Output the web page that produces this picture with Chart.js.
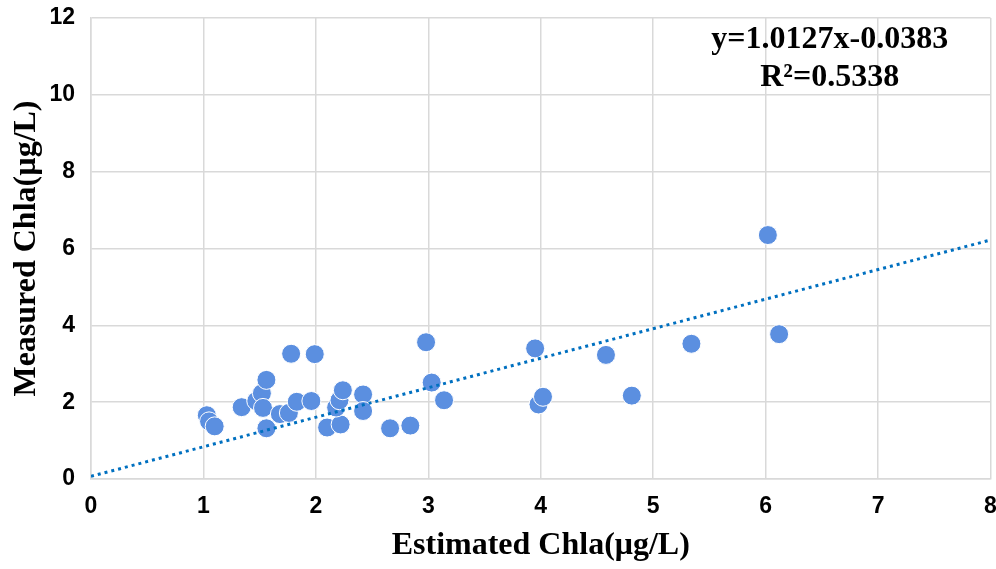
<!DOCTYPE html>
<html lang="en">
<head>
    <meta charset="UTF-8">
    <title>Estimated vs Measured Chla</title>
    <script src="https://cdn.jsdelivr.net/npm/chart.js@4/dist/chart.umd.min.js"></script>
    <style>
        html, body { margin: 0; padding: 0; background: #fff; overflow: hidden; }
        canvas { display: block; }
    </style>
</head>
<body>
    <!-- a little wider than the window so the plot reaches the right edge like the original -->
    <canvas id="chart" width="1001" height="569"></canvas>

    <script>
        // estimated Chla (x) and measured Chla (y), ug/L
        var estimated = [1.03, 1.05, 1.10, 1.34, 1.47, 1.52, 1.56, 1.53, 1.56, 1.68, 1.76, 1.78,
                         1.83, 1.96, 1.99, 2.10, 2.22, 2.18, 2.21, 2.24, 2.42, 2.42, 2.66, 2.84,
                         2.98, 3.03, 3.14, 3.95, 3.98, 4.02, 4.58, 4.81, 5.34, 6.02, 6.12];
        var measured  = [1.66, 1.50, 1.37, 1.87, 2.03, 2.23, 2.58, 1.85, 1.32, 1.69, 1.72, 3.26,
                         2.01, 2.03, 3.25, 1.34, 1.42, 1.86, 2.05, 2.31, 2.20, 1.77, 1.32, 1.39,
                         3.56, 2.51, 2.05, 3.40, 1.94, 2.14, 3.23, 2.17, 3.52, 6.35, 3.77];

        // trend line as drawn in the picture
        var trendX = [0, 8];
        var trendY = [0.07, 6.22];

        var xTicks = [0, 1, 2, 3, 4, 5, 6, 7, 8];
        var yTicks = [0, 2, 4, 6, 8, 10, 12];
        var eqLines = ['y=1.0127x-0.0383', 'R\u00b2=0.5338'];

        var points = estimated.map(function (x, i) { return { x: x, y: measured[i] }; });
        var trend = trendX.map(function (x, i) { return { x: x, y: trendY[i] }; });

        var tickFont = { family: 'Liberation Sans', size: 23, weight: 'bold' };
        var titleFont = { family: 'Liberation Serif', size: 32, weight: 'bold' };

        var equationPlugin = {
            id: 'equation',
            afterDraw: function (chart) {
                var c = chart.ctx;
                var xs = chart.scales.x;
                var ys = chart.scales.y;
                c.save();
                c.font = 'bold 32px "Liberation Serif"';
                c.fillStyle = '#000';
                c.textAlign = 'center';
                c.textBaseline = 'middle';
                var cx = xs.getPixelForValue(6.57);
                c.fillText(eqLines[0], cx, ys.getPixelForValue(11.43));
                c.fillText(eqLines[1], cx, ys.getPixelForValue(10.44));
                c.restore();
            }
        };

        new Chart(document.getElementById('chart').getContext('2d'), {
            type: 'scatter',
            data: {
                datasets: [{
                    label: 'Measured',
                    data: points,
                    backgroundColor: '#5b8fe0',
                    borderColor: '#ffffff',
                    borderWidth: 1,
                    pointRadius: 9.5,
                    order: 2
                }, {
                    label: 'Trend',
                    type: 'line',
                    data: trend,
                    borderColor: '#0070c0',
                    borderWidth: 3,
                    borderDash: [3, 4],
                    pointRadius: 0,
                    fill: false,
                    order: 1
                }]
            },
            options: {
                responsive: false,
                animation: false,
                layout: { padding: { top: 18, right: 0 } },
                plugins: {
                    legend: { display: false },
                    tooltip: { enabled: false }
                },
                scales: {
                    x: {
                        type: 'linear',
                        min: 0,
                        max: 8,
                        afterBuildTicks: function (s) { s.ticks = xTicks.map(function (v) { return { value: v }; }); },
                        grid: { color: '#d9d9d9', lineWidth: 1.5, drawTicks: false },
                        border: { color: '#d9d9d9', width: 1.5 },
                        ticks: { color: '#000', font: tickFont, padding: 14 },
                        title: { display: true, text: 'Estimated Chla(\u03bcg/L)', color: '#000', font: titleFont, padding: { top: 6 } },
                        afterFit: function (s) { s.height = 90; s.paddingRight = 0; s.paddingLeft = 0; }
                    },
                    y: {
                        min: 0,
                        max: 12,
                        afterBuildTicks: function (s) { s.ticks = yTicks.map(function (v) { return { value: v }; }); },
                        grid: { color: '#d9d9d9', lineWidth: 1.5, drawTicks: false },
                        border: { color: '#d9d9d9', width: 1.5 },
                        ticks: { color: '#000', font: tickFont, padding: 16 },
                        title: { display: true, text: 'Measured Chla(\u00b5g/L)', color: '#000', font: titleFont, padding: { top: 8, bottom: 0 } },
                        afterFit: function (s) { s.width = 91; s.paddingTop = 0; s.paddingBottom = 0; }
                    }
                }
            },
            plugins: [equationPlugin]
        });
    </script>
</body>
</html>
